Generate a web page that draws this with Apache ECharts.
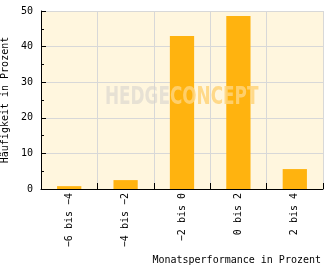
<!DOCTYPE html>
<html><head><meta charset="utf-8">
<script src="https://cdn.jsdelivr.net/npm/echarts@6/dist/echarts.min.js"></script>
<style>html,body{margin:0;padding:0;background:#fff}#c{width:332px;height:269px}</style>
</head><body><div id="c"></div>
<script>
var categories = ["−6 bis −4", "−4 bis −2", "−2 bis 0", "0 bis 2", "2 bis 4"];
var values = [0.8, 2.5, 43.0, 48.6, 5.6];
var yTicks = [0, 10, 20, 30, 40, 50];
var chart = echarts.init(document.getElementById('c'), null, {renderer: 'canvas'});
var font = 'DejaVu Sans Mono';
var wmFont = 'bold 24px "DejaVu Sans Condensed", "DejaVu Sans", sans-serif';
chart.setOption({
  animation: false,
  grid: {left: 41, right: 9, top: 11, bottom: 80, show: true, backgroundColor: '#FFF6DE', borderWidth: 0, z: 0,
         containLabel: false, outerBoundsMode: 'none'},
  graphic: [{
    type: 'text', x: 105, y: 86, z: 100, silent: true, scaleX: 0.78, scaleY: 1,
    style: {
      rich: {
        h: {fill: 'rgba(215,212,205,0.6)', font: wmFont},
        c: {fill: 'rgba(255,212,122,0.85)', font: wmFont}
      },
      text: '{h|HEDGE}{c|CONCEPT}'
    }
  }],
  xAxis: {
    type: 'category', data: categories,
    name: 'Monatsperformance in Prozent', nameLocation: 'end', nameGap: -2,
    nameTextStyle: {fontFamily: font, fontSize: 10, color: '#000', align: 'right', verticalAlign: 'top', padding: [66, 0, 0, 0]},
    axisLine: {lineStyle: {color: '#000', width: 1}},
    axisTick: {show: true, inside: true, length: 6, lineStyle: {color: '#000'}},
    axisLabel: {rotate: 90, fontFamily: font, fontSize: 10, color: '#000', margin: 4},
    splitLine: {show: true, lineStyle: {color: '#D8D8D8', width: 1}}
  },
  yAxis: {
    type: 'value', min: 0, max: 50, interval: 10,
    name: 'Häufigkeit in Prozent', nameLocation: 'middle', nameGap: 30,
    nameTextStyle: {fontFamily: font, fontSize: 10, color: '#000'},
    axisLine: {show: true, lineStyle: {color: '#000', width: 1}},
    axisTick: {show: true, inside: true, length: 5, lineStyle: {color: '#000'}},
    minorTick: {show: true, splitNumber: 2, length: 3, lineStyle: {color: '#000'}},
    axisLabel: {fontFamily: font, fontSize: 10, color: '#000', margin: 8},
    splitLine: {show: true, lineStyle: {color: '#D8D8D8', width: 1}}
  },
  series: [{
    type: 'bar', data: values, barWidth: '43%', z: 2,
    itemStyle: {color: '#FFB30F'}
  }]
});
</script></body></html>
